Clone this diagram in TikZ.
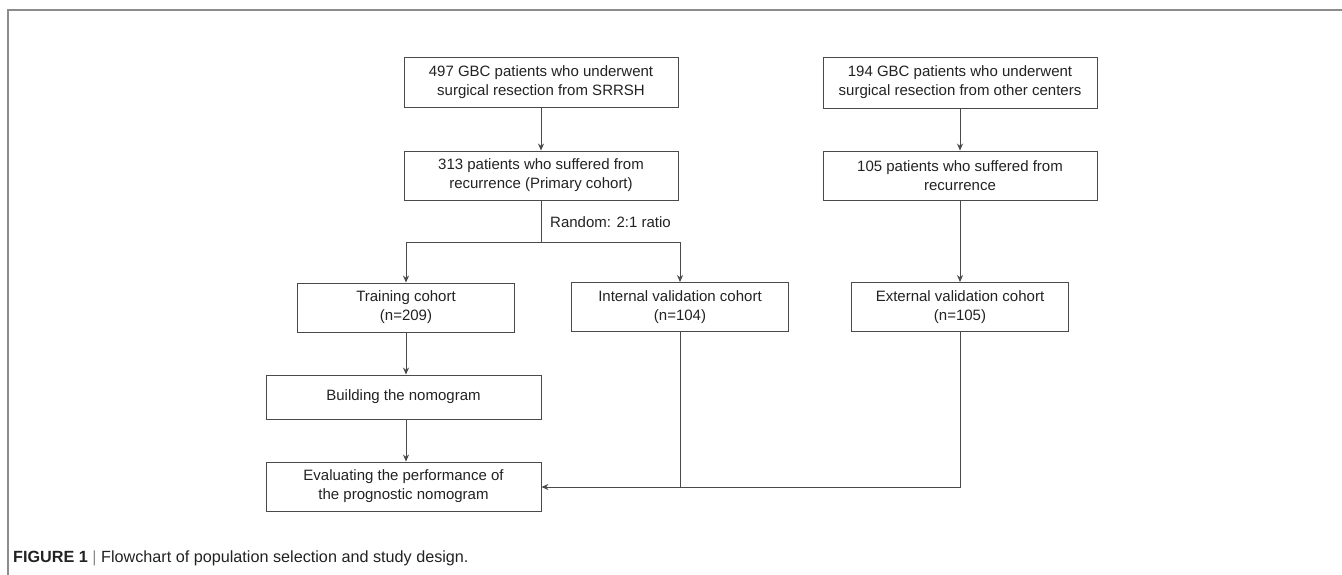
\documentclass[tikz,border=0pt]{standalone}
\usepackage{fontspec}
\setmainfont{Liberation Sans}
\usetikzlibrary{arrows.meta,calc}
\definecolor{framegray}{HTML}{8C8C8C}
\definecolor{boxline}{HTML}{4A4A4A}
\definecolor{txt}{HTML}{222222}
\tikzset{
  flowbox/.style={draw=boxline, line width=0.9pt, rectangle, align=center, inner sep=0pt,
    text=txt, font=\fontsize{15}{19}\selectfont, minimum height=49pt},
  wide/.style={minimum width=274pt},
  narrow/.style={minimum width=217pt},
  conn/.style={draw=boxline, line width=1pt},
  arr/.style={conn, -{Stealth[length=7pt,width=6pt]}},
}
\begin{document}
\begin{tikzpicture}[x=1pt,y=-1pt]
\useasboundingbox (0,0) rectangle (1342,575);
% frame
\draw[framegray, line width=1.6pt] (1342,10) -- (8,10) -- (8,575);
% boxes
\node[flowbox, wide, minimum height=50pt] (b1) at (541,82) {497 GBC patients who underwent\\surgical resection from SRRSH};
\node[flowbox, wide, minimum height=51pt] (b2) at (960,82.5) {194 GBC patients who underwent\\surgical resection from other centers};
\node[flowbox, wide] (b3) at (541,175.5) {313 patients who suffered from\\recurrence (Primary cohort)};
\node[flowbox, wide] (b4) at (960,175.5) {105 patients who suffered from\\recurrence};
\node[flowbox, narrow] (train) at (406,307.5) {Training cohort\\(n=209)};
\node[flowbox, narrow] (int) at (680,307) {Internal validation cohort\\(n=104)};
\node[flowbox, narrow] (ext) at (960,307) {External validation cohort\\(n=105)};
\node[flowbox, minimum width=275pt, minimum height=44pt] (build) at (403.5,397) {Building the nomogram};
\node[flowbox, minimum width=275pt] (eval) at (403.5,486.5) {Evaluating the performance of\\the prognostic nomogram};
% label
\node[anchor=west, inner sep=0pt, text=txt, font=\fontsize{15}{18}\selectfont] (rnd) at (550,222) {Random: 2:1 ratio};
% connectors
\coordinate (split) at (541,242);
\coordinate (join) at (960,487);
\draw[arr] (b1.south) -- (b3.north);
\draw[arr] (b2.south) -- (b4.north);
\draw[conn] (b3.south) -- (split);
\draw[arr] (split) -| (train.north);
\draw[arr] (split) -| (int.north);
\draw[arr] (b4.south) -- (ext.north);
\draw[arr] (train.south) -- (train.south |- build.north);
\draw[arr] (build.south -| train.south) -- (train.south |- eval.north);
\draw[conn] (int.south) -- (int.south |- join);
\draw[arr] (ext.south) -- (join) -- (join -| eval.east);
% caption
\node[anchor=west, inner sep=0pt, text=txt] (cap) at (13,558) {\fontsize{16.2}{19}\selectfont\textbf{FIGURE 1} {\color{framegray}|} Flowchart of population selection and study design.};
\end{tikzpicture}
\end{document}
